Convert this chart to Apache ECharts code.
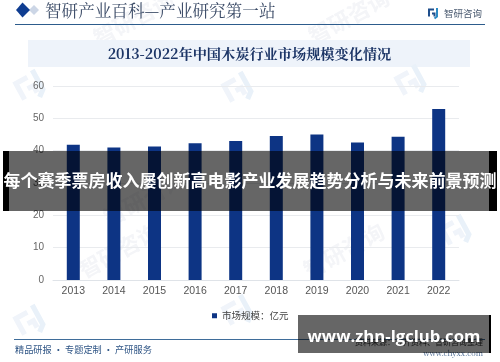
<!DOCTYPE html>
<html><head><meta charset="utf-8">
<style>html,body{margin:0;padding:0;background:#fff}#c{width:500px;height:362px}</style>
<script src="https://cdn.jsdelivr.net/npm/echarts@6/dist/echarts.min.js"></script>
</head><body><div id="c"></div>
<script>
const years=['2013','2014','2015','2016','2017','2018','2019','2020','2021','2022'];
const marketSize=[41.8,41.0,41.3,42.3,43.0,44.5,45.0,42.5,44.3,52.9];
const yTicks={min:0,max:60,interval:10};
const chartTitle='2013-2022年中国木炭行业市场规模变化情况';
const headerText='智研产业百科—产业研究第一站';
const brandText='智研咨询';
const footerLeft='精品研报 · 专题定制 · 产研服务';
const footerRight='资料来源：公开资料、智研咨询整理';
const footerUrl='www.chyxx.com';
const bannerText='每个赛季票房收入屡创新高电影产业发展趋势分析与未来前景预测';
const siteText='www.zhn-lgclub.com';
const seriesName='市场规模：亿元';
const watermarkText='智研咨询';
const serif='"Noto Serif CJK SC","Liberation Serif","Noto Sans CJK SC",serif';
const sans='"Liberation Sans","Noto Sans CJK SC",sans-serif';
const cjk='"Noto Sans CJK SC",sans-serif';
function logo(x,y,s,c1,c2,rot,z){
 return {type:'group',x:x,y:y,rotation:rot,z:z,children:[
  {type:'polyline',shape:{points:[[0,s*0.85],[0,s*0.15],[s*0.5,s*0.15]]},style:{stroke:c1,lineWidth:s*0.2,fill:null}},
  {type:'polyline',shape:{points:[[s*0.3,s*0.55],[s*0.55,s*0.55],[s*0.55,s*0.85]]},style:{stroke:c1,lineWidth:s*0.2,fill:null}},
  {type:'polyline',shape:{points:[[s*0.8,0],[s*0.8,s*0.85],[s*0.55,s*1.05]]},style:{stroke:c2,lineWidth:s*0.2,fill:null}}
 ]};
}
function mark(x,y){
 return {type:'text',x:x,y:y,rotation:0.5,z:-2,style:{text:watermarkText,font:'bold 22px '+cjk,fill:'#f4f5f8'}};
}
const chart=echarts.init(document.getElementById('c'),null,{renderer:'canvas'});
chart.setOption({
 animation:false,backgroundColor:'#fff',
 grid:{left:53,right:41,top:86,bottom:82,containLabel:false},
 legend:{show:true,top:306,left:207,itemWidth:5,itemHeight:5,itemGap:3,icon:'rect',
  textStyle:{fontFamily:cjk,fontSize:9.5,color:'#444'},data:[seriesName]},
 xAxis:{type:'category',data:years,axisTick:{show:false},
  axisLine:{lineStyle:{color:'#dfe3e8',width:1}},
  axisLabel:{fontFamily:sans,fontSize:10.5,color:'#555',margin:6}},
 yAxis:{type:'value',...yTicks,axisLine:{show:false},axisTick:{show:false},
  splitLine:{lineStyle:{color:'#e9ebee',width:1}},
  axisLabel:{fontFamily:sans,fontSize:10,color:'#666',margin:9}},
 series:[{name:seriesName,type:'bar',data:marketSize,barWidth:13,itemStyle:{color:'#0d3484'}}],
 graphic:[
  logo(14,80,26,'#f0f4fa','#e9f1f9',0.5,-2),logo(222,82,26,'#f0f4fa','#e9f1f9',0.5,-2),logo(395,75,26,'#f0f4fa','#e9f1f9',0.5,-2),
  logo(14,315,26,'#f0f4fa','#e9f1f9',0.5,-2),logo(222,305,26,'#f0f4fa','#e9f1f9',0.5,-2),logo(440,225,26,'#f0f4fa','#e9f1f9',0.5,-2),
  mark(75,262),mark(300,262),mark(90,30),mark(305,28),mark(100,210),
  {type:'rect',z:-1,shape:{x:28,y:40,width:442,height:27},style:{fill:'#eef3fa'}},
  {type:'text',x:249.5,y:54,style:{text:chartTitle,font:'bold 14.2px '+serif,fill:'#1c3566',align:'center',verticalAlign:'middle'}},
  {type:'polygon',shape:{points:[[29,10],[34,5],[39,10],[34,15]]},style:{fill:'#ccd6e6'}},
  {type:'polygon',shape:{points:[[16,10],[22.5,2.5],[30,10],[22.5,17.5]]},style:{fill:'#0f3d91'}},
  {type:'text',x:45,y:11,style:{text:headerText,font:'16.6px '+serif,fill:'#3a4a66',verticalAlign:'middle'}},
  {type:'line',shape:{x1:15,y1:24.5,x2:485,y2:24.5},style:{stroke:'#2d5c8c',lineWidth:1}},
  {type:'text',x:444,y:13,style:{text:brandText,font:'9.5px '+cjk,fill:'#4a5a70',verticalAlign:'middle'}},
  logo(429,8,10,'#1f4e8c','#2b8ac4',0,5),
  {type:'line',shape:{x1:14,y1:339.5,x2:485,y2:339.5},style:{stroke:'#3f6d9a',lineWidth:1}},
  {type:'text',x:15,y:350,style:{text:footerLeft,font:'9.2px '+cjk,fill:'#2f5585',verticalAlign:'middle'}},
  {type:'text',x:483,y:342,style:{text:footerRight,font:'8px '+cjk,fill:'#333',align:'right',verticalAlign:'middle'}},
  {type:'text',x:483,y:353,style:{text:footerUrl,font:'7.5px '+serif,fill:'#3f5f8a',align:'right',verticalAlign:'middle'}},
  {type:'rect',z:50,shape:{x:3,y:151,width:6,height:60},style:{fill:'#000'}},
  {type:'rect',z:50,shape:{x:489,y:151,width:8,height:60},style:{fill:'#000'}},
  {type:'rect',z:51,shape:{x:9,y:151,width:480,height:60},style:{fill:'#000',opacity:0.6}},
  {type:'text',z:52,x:250,y:181,style:{text:bannerText,font:'bold 17px '+cjk,fill:'#fff',align:'center',verticalAlign:'middle'}},
  {type:'rect',z:50,shape:{x:489,y:315,width:2,height:38},style:{fill:'#000'}},
  {type:'rect',z:51,shape:{x:298,y:315,width:191,height:38},style:{fill:'#000',opacity:0.6}},
  {type:'text',z:52,x:394,y:337,style:{text:siteText,font:'bold 16.7px "Open Sans",sans-serif',fill:'#fff',align:'center',verticalAlign:'middle'}}
 ]
});
</script></body></html>
